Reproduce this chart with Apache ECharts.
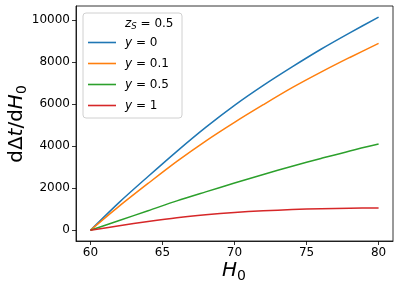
<!DOCTYPE html>
<html><head><meta charset="utf-8">
<script src="https://cdn.jsdelivr.net/npm/echarts@6/dist/echarts.min.js"></script>
<style>html,body{margin:0;padding:0;background:#fff}#c{width:399px;height:290px}</style>
</head><body><div id="c"></div>
<script>
const H0 = [60, 62, 64, 66, 68, 70, 72, 74, 76, 78, 80];
const y0 = [0, 1330, 2560, 3760, 4900, 5950, 6900, 7780, 8620, 9400, 10150];
const y01 = [0, 1150, 2230, 3280, 4250, 5140, 5980, 6790, 7530, 8230, 8900];
const y05 = [0, 470, 930, 1400, 1830, 2250, 2660, 3050, 3420, 3780, 4110];
const y1 = [0, 220, 420, 600, 740, 850, 930, 985, 1030, 1052, 1062];
const xTicks = [60, 65, 70, 75, 80];
const yTicks = [0, 2000, 4000, 6000, 8000, 10000];
const seriesNames = ['y = 0', 'y = 0.1', 'y = 0.5', 'y = 1'];
const seriesData = [y0, y01, y05, y1];
const colors = ['#1f77b4', '#ff7f0e', '#2ca02c', '#d62728'];
const legendLabels = {'y = 0': '0', 'y = 0.1': '0.1', 'y = 0.5': '0.5', 'y = 1': '1'};

const font = 'DejaVu Sans';
const chart = echarts.init(document.getElementById('c'), null, {renderer: 'canvas'});
chart.setOption({
  animation: false,
  color: colors,
  grid: {left: 76, right: 6, top: 6, bottom: 49, show: true, borderColor: '#000', borderWidth: 0.8, containLabel: false},
  xAxis: {
    type: 'value', min: 59, max: 81,
    splitLine: {show: false},
    axisLine: {show: true, onZero: false, lineStyle: {color: '#000', width: 0.8}},
    axisTick: {show: true, length: 4, customValues: xTicks, lineStyle: {color: '#000', width: 0.8}},
    axisLabel: {customValues: xTicks, color: '#000', fontFamily: font, fontSize: 12, margin: 6,
      formatter: function (v) { return String(v); }}
  },
  yAxis: {
    type: 'value', min: -510, max: 10680,
    splitLine: {show: false},
    axisLine: {show: true, onZero: false, lineStyle: {color: '#000', width: 0.8}},
    axisTick: {show: true, length: 4, customValues: yTicks, lineStyle: {color: '#000', width: 0.8}},
    axisLabel: {customValues: yTicks, color: '#000', fontFamily: font, fontSize: 12, margin: 6,
      formatter: function (v) { return String(v); }}
  },
  legend: {
    z: 20, zlevel: 0,
    orient: 'vertical', left: 88, top: 32, padding: 0, itemGap: 0,
    itemWidth: 28, itemHeight: 1.6, icon: 'rect',
    data: seriesNames,
    formatter: function (n) { return '{i|y}{n| = ' + legendLabels[n] + '}'; },
    textStyle: {
      fontFamily: font, fontSize: 12, color: '#000', lineHeight: 21, padding: [0, 0, 0, 4],
      rich: {
        i: {fontStyle: 'italic', fontFamily: font, fontSize: 12, lineHeight: 21},
        n: {fontFamily: font, fontSize: 12, lineHeight: 21}
      }
    }
  },
  graphic: [
    {type: 'rect', z: 5, shape: {x: 83, y: 13, width: 99, height: 105, r: 3},
     style: {fill: 'rgba(255,255,255,0.8)', stroke: '#d0d0d0', lineWidth: 1}},
    {type: 'text', z: 6, x: 125, y: 24,
     style: {text: '{i|z}{s|S}{n| = 0.5}', verticalAlign: 'middle', fill: '#000',
       rich: {i: {fontStyle: 'italic', fontFamily: font, fontSize: 12},
              s: {fontStyle: 'italic', fontFamily: font, fontSize: 8.5, verticalAlign: 'bottom', padding: [6, 0, 0, 0]},
              n: {fontFamily: font, fontSize: 12}}}},
    {type: 'text', x: 234, y: 271,
     style: {text: '{i|H}{s|0}', align: 'center', verticalAlign: 'middle', fill: '#000',
       rich: {i: {fontStyle: 'italic', fontFamily: font, fontSize: 20},
              s: {fontFamily: font, fontSize: 14, padding: [10, 0, 0, 0]}}}},
    {type: 'text', x: 17, y: 124, rotation: Math.PI / 2,
     style: {text: '{n|dΔ}{i|t}{n|/d}{i|H}{s|0}', align: 'center', verticalAlign: 'middle', fill: '#000',
       rich: {i: {fontStyle: 'italic', fontFamily: font, fontSize: 20},
              n: {fontFamily: font, fontSize: 20},
              s: {fontFamily: font, fontSize: 14, padding: [10, 0, 0, 0]}}}}
  ],
  series: seriesNames.map(function (name, k) {
    return {
      name: name, type: 'line', showSymbol: false, symbol: 'none', smooth: 0.3,
      lineStyle: {width: 1.5, color: colors[k]},
      data: H0.map(function (x, i) { return [x, seriesData[k][i]]; })
    };
  })
});
</script></body></html>
